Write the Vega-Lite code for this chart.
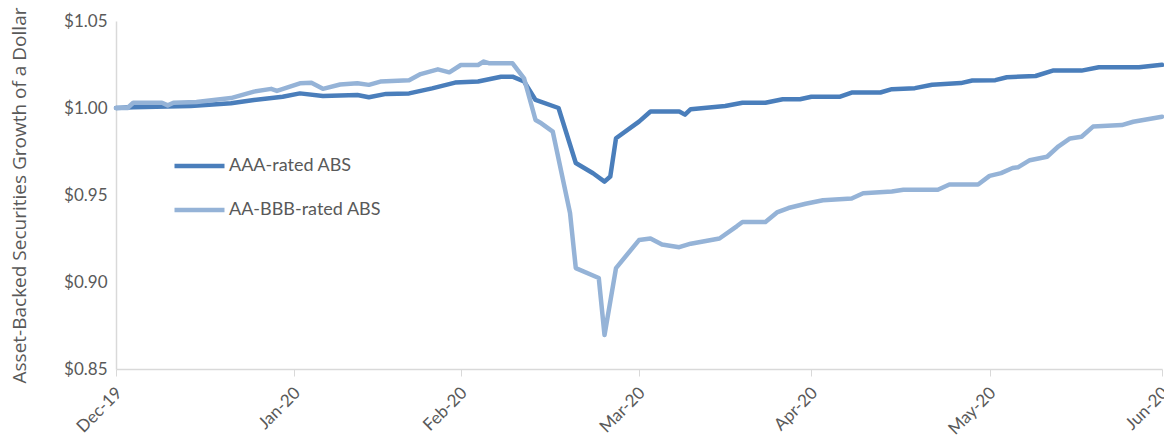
{
  "$schema": "https://vega.github.io/schema/vega-lite/v6.json",
  "width": 1046,
  "height": 348,
  "autosize": {"type": "none"},
  "padding": {"left": 116, "top": 21, "right": 2, "bottom": 73},
  "background": "white",
  "config": {
    "view": {"stroke": null},
    "font": "Lato",
    "axis": {
      "labelColor": "#595959",
      "labelFontSize": 17,
      "titleColor": "#595959",
      "titleFontSize": 19,
      "titleFont": "Open Sans",
      "titleFontWeight": "normal",
      "domainColor": "#d9d9d9",
      "domainWidth": 1.5,
      "tickColor": "#d9d9d9",
      "grid": false
    },
    "legend": {
      "labelColor": "#595959",
      "labelFontSize": 18,
      "labelFont": "Lato"
    }
  },
  "datasets": {
    "abs": [
      {"date": "2019-12-31", "series": "AAA-rated ABS", "value": 1.0},
      {"date": "2020-01-03", "series": "AAA-rated ABS", "value": 1.0005},
      {"date": "2020-01-13", "series": "AAA-rated ABS", "value": 1.0012},
      {"date": "2020-01-20", "series": "AAA-rated ABS", "value": 1.0027},
      {"date": "2020-01-24", "series": "AAA-rated ABS", "value": 1.0046},
      {"date": "2020-01-29", "series": "AAA-rated ABS", "value": 1.0065},
      {"date": "2020-02-01", "series": "AAA-rated ABS", "value": 1.0084},
      {"date": "2020-02-05", "series": "AAA-rated ABS", "value": 1.0069},
      {"date": "2020-02-11", "series": "AAA-rated ABS", "value": 1.0075},
      {"date": "2020-02-13", "series": "AAA-rated ABS", "value": 1.0062},
      {"date": "2020-02-16", "series": "AAA-rated ABS", "value": 1.0081},
      {"date": "2020-02-20", "series": "AAA-rated ABS", "value": 1.0084},
      {"date": "2020-02-24", "series": "AAA-rated ABS", "value": 1.0113},
      {"date": "2020-02-28", "series": "AAA-rated ABS", "value": 1.0146},
      {"date": "2020-03-03", "series": "AAA-rated ABS", "value": 1.0152},
      {"date": "2020-03-07", "series": "AAA-rated ABS", "value": 1.018},
      {"date": "2020-03-09", "series": "AAA-rated ABS", "value": 1.018},
      {"date": "2020-03-11", "series": "AAA-rated ABS", "value": 1.0152},
      {"date": "2020-03-13", "series": "AAA-rated ABS", "value": 1.0046},
      {"date": "2020-03-17", "series": "AAA-rated ABS", "value": 1.0},
      {"date": "2020-03-20", "series": "AAA-rated ABS", "value": 0.9684},
      {"date": "2020-03-23", "series": "AAA-rated ABS", "value": 0.9625},
      {"date": "2020-03-25", "series": "AAA-rated ABS", "value": 0.9577},
      {"date": "2020-03-26", "series": "AAA-rated ABS", "value": 0.9606},
      {"date": "2020-03-27", "series": "AAA-rated ABS", "value": 0.9826},
      {"date": "2020-03-31", "series": "AAA-rated ABS", "value": 0.9922},
      {"date": "2020-04-02", "series": "AAA-rated ABS", "value": 0.998},
      {"date": "2020-04-07", "series": "AAA-rated ABS", "value": 0.998},
      {"date": "2020-04-08", "series": "AAA-rated ABS", "value": 0.9962},
      {"date": "2020-04-09", "series": "AAA-rated ABS", "value": 0.9993},
      {"date": "2020-04-15", "series": "AAA-rated ABS", "value": 1.0012},
      {"date": "2020-04-18", "series": "AAA-rated ABS", "value": 1.003},
      {"date": "2020-04-22", "series": "AAA-rated ABS", "value": 1.003},
      {"date": "2020-04-25", "series": "AAA-rated ABS", "value": 1.005},
      {"date": "2020-04-28", "series": "AAA-rated ABS", "value": 1.005},
      {"date": "2020-04-30", "series": "AAA-rated ABS", "value": 1.0065},
      {"date": "2020-05-05", "series": "AAA-rated ABS", "value": 1.0065},
      {"date": "2020-05-07", "series": "AAA-rated ABS", "value": 1.0089},
      {"date": "2020-05-12", "series": "AAA-rated ABS", "value": 1.0089},
      {"date": "2020-05-14", "series": "AAA-rated ABS", "value": 1.0108},
      {"date": "2020-05-18", "series": "AAA-rated ABS", "value": 1.0114},
      {"date": "2020-05-21", "series": "AAA-rated ABS", "value": 1.0134},
      {"date": "2020-05-26", "series": "AAA-rated ABS", "value": 1.0143},
      {"date": "2020-05-28", "series": "AAA-rated ABS", "value": 1.0158},
      {"date": "2020-06-01", "series": "AAA-rated ABS", "value": 1.016},
      {"date": "2020-06-03", "series": "AAA-rated ABS", "value": 1.0177},
      {"date": "2020-06-08", "series": "AAA-rated ABS", "value": 1.0184},
      {"date": "2020-06-11", "series": "AAA-rated ABS", "value": 1.0215},
      {"date": "2020-06-16", "series": "AAA-rated ABS", "value": 1.0215},
      {"date": "2020-06-19", "series": "AAA-rated ABS", "value": 1.0234},
      {"date": "2020-06-26", "series": "AAA-rated ABS", "value": 1.0234},
      {"date": "2020-06-30", "series": "AAA-rated ABS", "value": 1.0248},
      {"date": "2019-12-31", "series": "AA-BBB-rated ABS", "value": 1.0},
      {"date": "2020-01-02", "series": "AA-BBB-rated ABS", "value": 1.0},
      {"date": "2020-01-03", "series": "AA-BBB-rated ABS", "value": 1.003},
      {"date": "2020-01-08", "series": "AA-BBB-rated ABS", "value": 1.003},
      {"date": "2020-01-09", "series": "AA-BBB-rated ABS", "value": 1.0015},
      {"date": "2020-01-10", "series": "AA-BBB-rated ABS", "value": 1.003},
      {"date": "2020-01-14", "series": "AA-BBB-rated ABS", "value": 1.0035},
      {"date": "2020-01-20", "series": "AA-BBB-rated ABS", "value": 1.0057},
      {"date": "2020-01-24", "series": "AA-BBB-rated ABS", "value": 1.0094},
      {"date": "2020-01-27", "series": "AA-BBB-rated ABS", "value": 1.011},
      {"date": "2020-01-28", "series": "AA-BBB-rated ABS", "value": 1.0098},
      {"date": "2020-02-01", "series": "AA-BBB-rated ABS", "value": 1.0142},
      {"date": "2020-02-03", "series": "AA-BBB-rated ABS", "value": 1.0145},
      {"date": "2020-02-05", "series": "AA-BBB-rated ABS", "value": 1.011},
      {"date": "2020-02-08", "series": "AA-BBB-rated ABS", "value": 1.0135},
      {"date": "2020-02-11", "series": "AA-BBB-rated ABS", "value": 1.0142},
      {"date": "2020-02-13", "series": "AA-BBB-rated ABS", "value": 1.0133},
      {"date": "2020-02-15", "series": "AA-BBB-rated ABS", "value": 1.0152},
      {"date": "2020-02-20", "series": "AA-BBB-rated ABS", "value": 1.016},
      {"date": "2020-02-22", "series": "AA-BBB-rated ABS", "value": 1.0195},
      {"date": "2020-02-25", "series": "AA-BBB-rated ABS", "value": 1.0222},
      {"date": "2020-02-27", "series": "AA-BBB-rated ABS", "value": 1.0205},
      {"date": "2020-02-29", "series": "AA-BBB-rated ABS", "value": 1.0247},
      {"date": "2020-03-03", "series": "AA-BBB-rated ABS", "value": 1.0247},
      {"date": "2020-03-04", "series": "AA-BBB-rated ABS", "value": 1.0267},
      {"date": "2020-03-05", "series": "AA-BBB-rated ABS", "value": 1.0257},
      {"date": "2020-03-09", "series": "AA-BBB-rated ABS", "value": 1.0257},
      {"date": "2020-03-11", "series": "AA-BBB-rated ABS", "value": 1.017},
      {"date": "2020-03-13", "series": "AA-BBB-rated ABS", "value": 0.9931},
      {"date": "2020-03-14", "series": "AA-BBB-rated ABS", "value": 0.9912},
      {"date": "2020-03-16", "series": "AA-BBB-rated ABS", "value": 0.9864},
      {"date": "2020-03-19", "series": "AA-BBB-rated ABS", "value": 0.9397},
      {"date": "2020-03-20", "series": "AA-BBB-rated ABS", "value": 0.908},
      {"date": "2020-03-24", "series": "AA-BBB-rated ABS", "value": 0.9023},
      {"date": "2020-03-25", "series": "AA-BBB-rated ABS", "value": 0.8695},
      {"date": "2020-03-27", "series": "AA-BBB-rated ABS", "value": 0.908},
      {"date": "2020-03-31", "series": "AA-BBB-rated ABS", "value": 0.9241},
      {"date": "2020-04-02", "series": "AA-BBB-rated ABS", "value": 0.925},
      {"date": "2020-04-04", "series": "AA-BBB-rated ABS", "value": 0.9215},
      {"date": "2020-04-07", "series": "AA-BBB-rated ABS", "value": 0.92},
      {"date": "2020-04-09", "series": "AA-BBB-rated ABS", "value": 0.922},
      {"date": "2020-04-14", "series": "AA-BBB-rated ABS", "value": 0.925},
      {"date": "2020-04-17", "series": "AA-BBB-rated ABS", "value": 0.932},
      {"date": "2020-04-18", "series": "AA-BBB-rated ABS", "value": 0.9345},
      {"date": "2020-04-22", "series": "AA-BBB-rated ABS", "value": 0.9345},
      {"date": "2020-04-24", "series": "AA-BBB-rated ABS", "value": 0.94},
      {"date": "2020-04-26", "series": "AA-BBB-rated ABS", "value": 0.9425},
      {"date": "2020-04-29", "series": "AA-BBB-rated ABS", "value": 0.945},
      {"date": "2020-05-02", "series": "AA-BBB-rated ABS", "value": 0.947},
      {"date": "2020-05-07", "series": "AA-BBB-rated ABS", "value": 0.948},
      {"date": "2020-05-09", "series": "AA-BBB-rated ABS", "value": 0.951},
      {"date": "2020-05-14", "series": "AA-BBB-rated ABS", "value": 0.952},
      {"date": "2020-05-16", "series": "AA-BBB-rated ABS", "value": 0.953},
      {"date": "2020-05-22", "series": "AA-BBB-rated ABS", "value": 0.953},
      {"date": "2020-05-24", "series": "AA-BBB-rated ABS", "value": 0.956},
      {"date": "2020-05-29", "series": "AA-BBB-rated ABS", "value": 0.956},
      {"date": "2020-05-31", "series": "AA-BBB-rated ABS", "value": 0.961},
      {"date": "2020-06-02", "series": "AA-BBB-rated ABS", "value": 0.9626},
      {"date": "2020-06-04", "series": "AA-BBB-rated ABS", "value": 0.9655},
      {"date": "2020-06-05", "series": "AA-BBB-rated ABS", "value": 0.966},
      {"date": "2020-06-07", "series": "AA-BBB-rated ABS", "value": 0.97},
      {"date": "2020-06-10", "series": "AA-BBB-rated ABS", "value": 0.972},
      {"date": "2020-06-12", "series": "AA-BBB-rated ABS", "value": 0.978},
      {"date": "2020-06-14", "series": "AA-BBB-rated ABS", "value": 0.9825},
      {"date": "2020-06-16", "series": "AA-BBB-rated ABS", "value": 0.9835},
      {"date": "2020-06-18", "series": "AA-BBB-rated ABS", "value": 0.9893},
      {"date": "2020-06-23", "series": "AA-BBB-rated ABS", "value": 0.9902},
      {"date": "2020-06-25", "series": "AA-BBB-rated ABS", "value": 0.9921},
      {"date": "2020-06-30", "series": "AA-BBB-rated ABS", "value": 0.995}
    ]
  },
  "layer": [
    {
      "data": {"name": "abs"},
      "mark": {"type": "line", "strokeWidth": 4.5, "strokeJoin": "round", "strokeCap": "round"},
      "encoding": {
        "x": {
          "field": "date",
          "type": "temporal",
          "scale": {
            "type": "utc",
            "domain": [
              {"year": 2019, "month": 12, "date": 31, "utc": true},
              {"year": 2020, "month": 6, "date": 30, "utc": true}
            ]
          },
          "axis": {
            "title": null,
            "format": "%b-%y",
            "values": [
              {"year": 2019, "month": 12, "date": 31, "utc": true},
              {"year": 2020, "month": 1, "date": 31, "utc": true},
              {"year": 2020, "month": 2, "date": 29, "utc": true},
              {"year": 2020, "month": 3, "date": 31, "utc": true},
              {"year": 2020, "month": 4, "date": 30, "utc": true},
              {"year": 2020, "month": 5, "date": 31, "utc": true},
              {"year": 2020, "month": 6, "date": 30, "utc": true}
            ],
            "labelAngle": -45,
            "labelAlign": "right",
            "labelBaseline": "middle",
            "tickSize": 7,
            "labelPadding": 14,
            "labelOffset": 3,
            "labelOverlap": false,
            "labelBound": false,
            "labelFlush": false
          }
        },
        "y": {
          "field": "value",
          "type": "quantitative",
          "scale": {"domain": [0.85, 1.05], "nice": false, "zero": false},
          "axis": {
            "title": "Asset-Backed Securities Growth of a Dollar",
            "values": [0.85, 0.9, 0.95, 1.0, 1.05],
            "format": "$.2f",
            "ticks": false,
            "labelPadding": 9,
            "titlePadding": 34
          }
        },
        "color": {
          "field": "series",
          "type": "nominal",
          "sort": ["AAA-rated ABS", "AA-BBB-rated ABS"],
          "scale": {
            "domain": ["AAA-rated ABS", "AA-BBB-rated ABS"],
            "range": ["#4a7ebb", "#95b3d7"]
          },
          "legend": {
            "title": null,
            "orient": "none",
            "legendX": 56,
            "legendY": 135,
            "direction": "vertical",
            "symbolType": "stroke",
            "symbolSize": 2500,
            "symbolStrokeWidth": 4.5,
            "clipHeight": 20,
            "rowPadding": 24,
            "labelOffset": 2,
            "padding": 0
          }
        }
      }
    },
    {
      "mark": {"type": "rule", "color": "#404040", "strokeWidth": 1.5},
      "encoding": {"y": {"datum": 1.0}}
    }
  ]
}
